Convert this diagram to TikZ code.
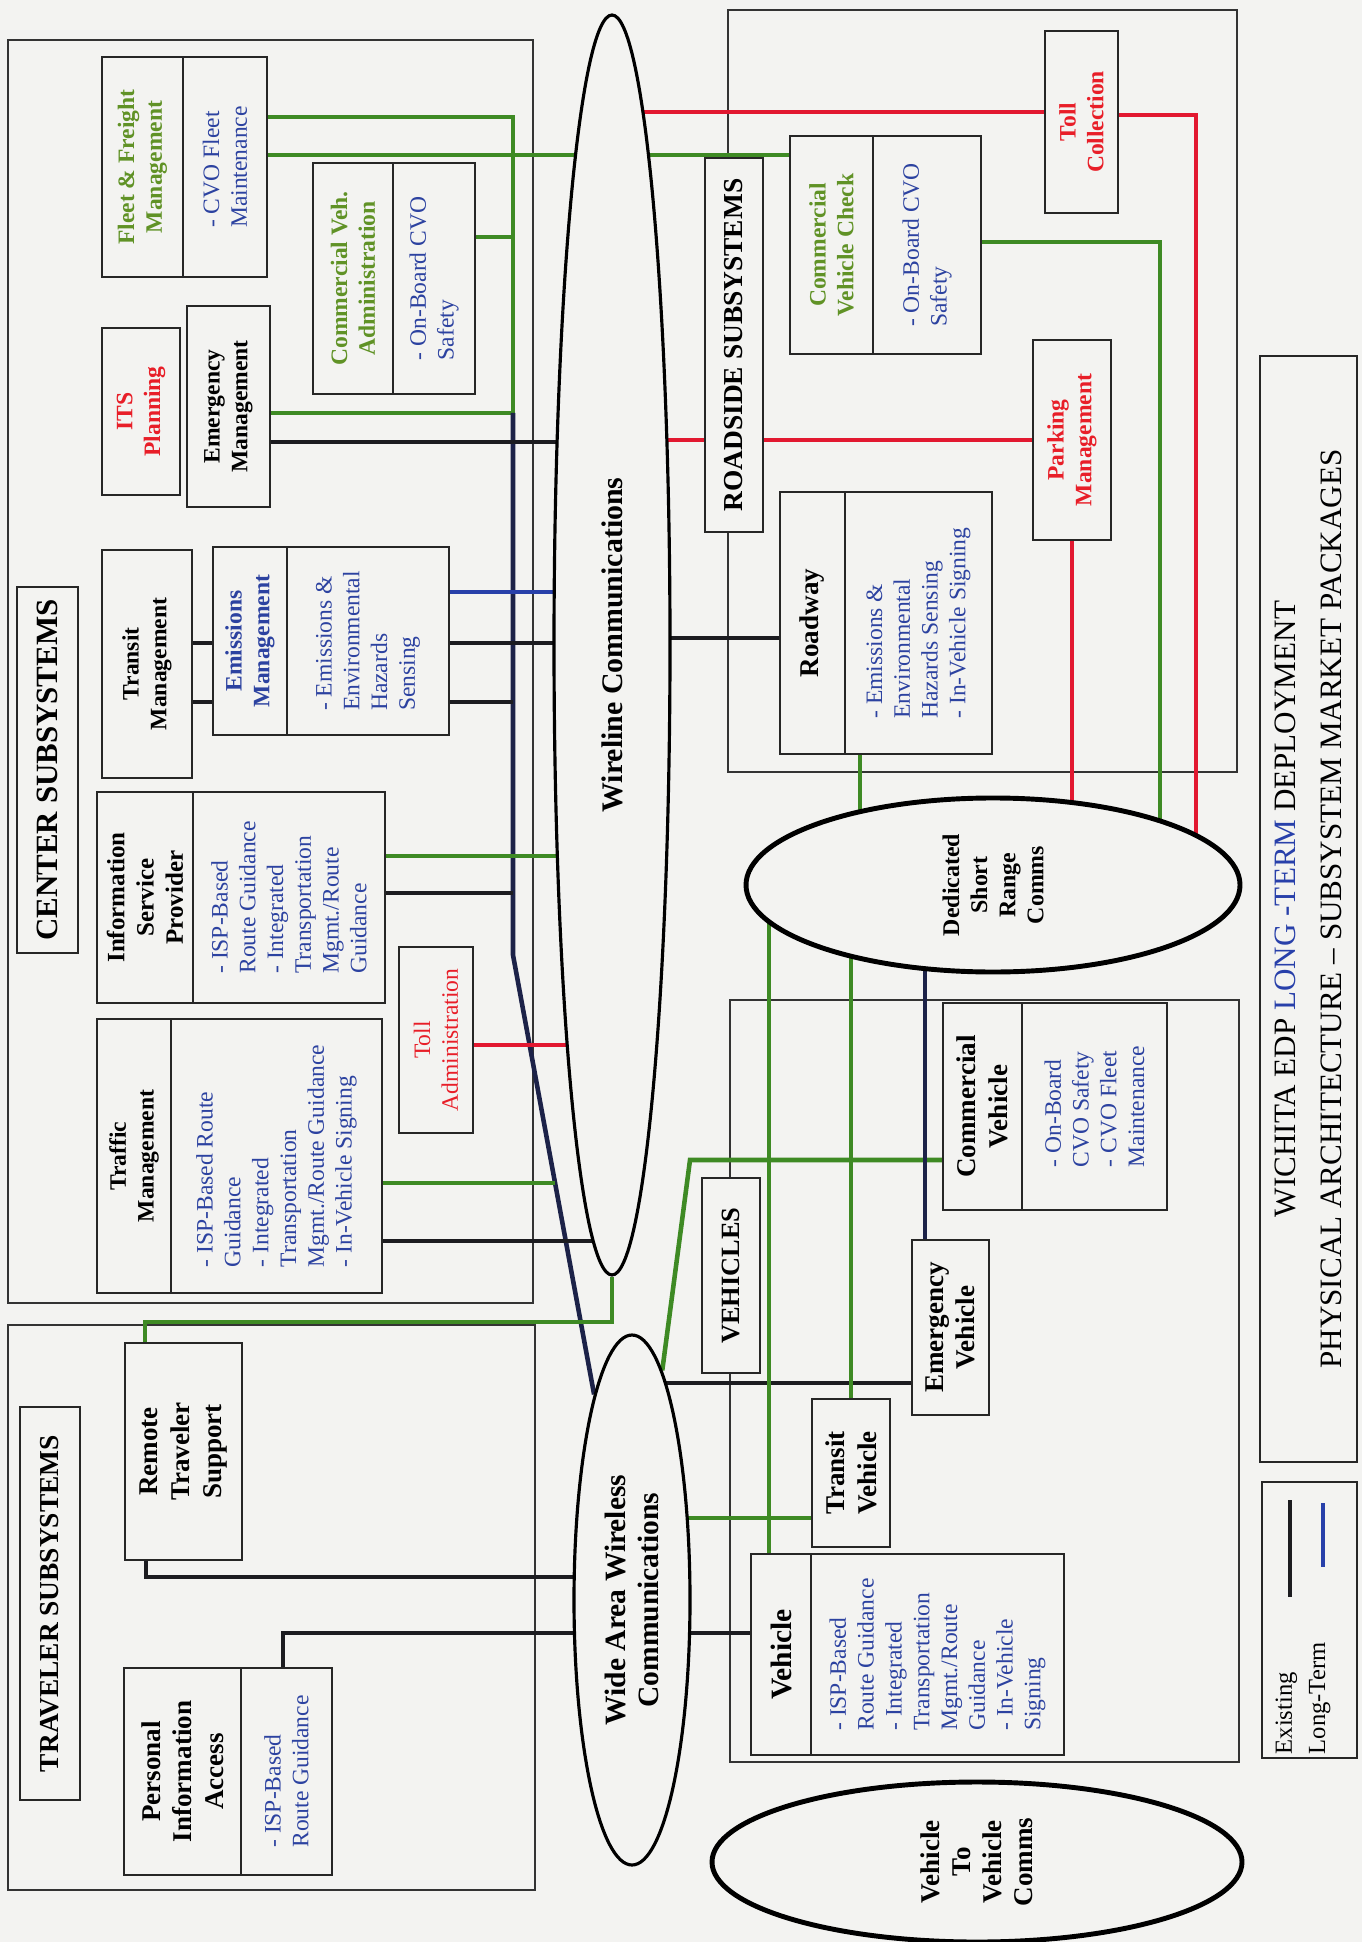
\documentclass[tikz,border=0pt]{standalone}
\usepackage{fontspec}
\setmainfont{Liberation Serif}
\usetikzlibrary{positioning, shapes.geometric, backgrounds}
\definecolor{paperGrey}{RGB}{243,243,241}
\definecolor{wireBlack}{RGB}{28,28,32}
\definecolor{busNavy}{RGB}{28,34,72}
\definecolor{termBlue}{RGB}{40,64,170}
\definecolor{linkGreen}{RGB}{62,138,36}
\definecolor{linkRed}{RGB}{226,24,48}
\definecolor{txtGreen}{RGB}{96,146,38}
\definecolor{txtBlue}{RGB}{44,66,160}
\definecolor{txtRed}{RGB}{232,30,40}
\tikzset{
	boxsize/.style 2 args={minimum height=#1mm, minimum width=#2mm},
	subbox/.style={rectangle, draw=black!85, line width=0.6pt, fill=paperGrey,
		rotate=90, inner sep=1pt, align=center,
		font=\fontsize{6.7}{7.9}\selectfont\bfseries},
	bigbox/.style={subbox, font=\fontsize{7.7}{9}\selectfont\bfseries},
	listbox/.style={subbox, align=left, text=txtBlue,
		font=\fontsize{6.7}{7.9}\selectfont},
	headbox/.style={subbox, font=\fontsize{7.8}{9}\selectfont\bfseries},
	commsblob/.style={ellipse, draw=black, line width=0.9pt, fill=paperGrey,
		rotate=90, inner sep=0pt, align=center,
		font=\fontsize{8.5}{9.7}\selectfont\bfseries},
	framebox/.style={draw=black!80, line width=0.45pt},
	link/.style={line width=1.3pt},
	blkline/.style={link, draw=wireBlack},
	navyline/.style={link, draw=busNavy},
	bluline/.style={link, draw=termBlue},
	grnline/.style={link, draw=linkGreen},
	redline/.style={link, draw=linkRed}
}

\begin{document}
\begin{tikzpicture}[x=0.1mm, y=-0.1mm]
	\useasboundingbox (0,0) rectangle (1362,1942);
	% center subsystems
	\node[headbox, boxsize={6.1}{36.6}, font=\fontsize{8.8}{10}\selectfont\bfseries] (centerhd) at (47.5,770) {CENTER SUBSYSTEMS};
	\node[subbox, boxsize={8.1}{22}, text=txtGreen] (fleetT) at (142.5,167) {Fleet \& Freight\\Management};
	\node[listbox, boxsize={8.4}{22}] (fleetL) at (225,167) {- CVO Fleet\\Maintenance};
	\node[subbox, boxsize={7.8}{16.7}, text=txtRed] (itsplan) at (141,411.5) {ITS\\Planning};
	\node[subbox, boxsize={8.3}{20.1}] (emerg) at (228.5,406.5) {Emergency\\Management};
	\node[subbox, boxsize={8}{23.1}, text=txtGreen] (cvaT) at (353,278.5) {Commercial Veh.\\Administration};
	\node[listbox, boxsize={8.2}{23.1}] (cvaL) at (434,278.5) {- On-Board CVO\\Safety};
	\node[subbox, boxsize={9}{22.8}] (transitM) at (147,664) {Transit\\Management};
	\node[subbox, boxsize={7.4}{18.8}, text=txtBlue] (emisT) at (250,641) {Emissions\\Management};
	\node[listbox, boxsize={16.2}{18.8}] (emisL) at (368,641) {- Emissions \&\\Environmental\\Hazards\\Sensing};
	\node[subbox, boxsize={9.6}{21.1}, font=\fontsize{7.1}{8.3}\selectfont\bfseries] (ispT) at (145,897.5) {Information\\Service\\Provider};
	\node[listbox, boxsize={19.2}{21.1}] (ispL) at (289,897.5) {- ISP-Based\\Route Guidance\\- Integrated\\Transportation\\Mgmt./Route\\Guidance};
	\node[subbox, boxsize={7.4}{27.4}] (trafT) at (134,1156) {Traffic\\Management};
	\node[listbox, boxsize={21.1}{27.4}] (trafL) at (276.5,1156) {- ISP-Based Route\\Guidance\\- Integrated\\Transportation\\Mgmt./Route Guidance\\- In-Vehicle Signing};
	\node[subbox, boxsize={7.4}{18.6}, text=txtRed, font=\fontsize{6.7}{7.9}\selectfont] (tolladm) at (436,1040) {Toll\\Administration};
	% traveler subsystems
	\node[headbox, boxsize={6}{39.3}] (travhd) at (50,1603.5) {TRAVELER SUBSYSTEMS};
	\node[bigbox, boxsize={11.7}{21.7}] (remote) at (183.5,1451.5) {Remote\\Traveler\\Support};
	\node[bigbox, boxsize={11.7}{20.7}] (piaT) at (182.5,1771.5) {Personal\\Information\\Access};
	\node[listbox, boxsize={9.1}{20.7}] (piaL) at (286.5,1771.5) {- ISP-Based\\Route Guidance};
	% roadside subsystems
	\node[headbox, boxsize={5.8}{37.4}] (roadhd) at (734,345) {ROADSIDE SUBSYSTEMS};
	\node[subbox, boxsize={8.3}{21.8}, text=txtGreen] (cvcT) at (831.5,245) {Commercial\\Vehicle Check};
	\node[listbox, boxsize={10.8}{21.8}] (cvcL) at (927,245) {- On-Board CVO\\Safety};
	\node[subbox, boxsize={7.3}{18.2}, text=txtRed] (tollcol) at (1081.5,122) {Toll\\Collection};
	\node[subbox, boxsize={7.8}{20}, text=txtRed] (parking) at (1072,440) {Parking\\Management};
	\node[bigbox, boxsize={6.5}{26.2}] (roadT) at (812.5,623) {Roadway};
	\node[listbox, boxsize={14.7}{26.2}] (roadL) at (918.5,623) {- Emissions \&\\Environmental\\Hazards Sensing\\- In-Vehicle Signing};
	% vehicles
	\node[headbox, boxsize={5.8}{19.5}, font=\fontsize{7.5}{9}\selectfont\bfseries] (vehhd) at (731,1275.5) {VEHICLES};
	\node[bigbox, boxsize={7.9}{20.7}] (comvT) at (982.5,1106.5) {Commercial\\Vehicle};
	\node[listbox, boxsize={14.5}{20.7}] (comvL) at (1094.5,1106.5) {- On-Board\\CVO Safety\\- CVO Fleet\\Maintenance};
	\node[bigbox, boxsize={7.7}{17.5}] (emveh) at (950.5,1327.5) {Emergency\\Vehicle};
	\node[bigbox, boxsize={7.8}{14.8}] (transv) at (851,1473) {Transit\\Vehicle};
	\node[bigbox, boxsize={6}{20.1}, font=\fontsize{8.4}{9.6}\selectfont\bfseries] (vehT) at (781,1654.5) {Vehicle};
	\node[listbox, boxsize={25.3}{20.1}] (vehL) at (937.5,1654.5) {- ISP-Based\\Route Guidance\\- Integrated\\Transportation\\Mgmt./Route\\Guidance\\- In-Vehicle\\Signing};
	% communications
	\node[commsblob, boxsize={11.6}{126}] (wire) at (612,645) {Wireline Communications};
	\node[commsblob, boxsize={11.6}{53}, font=\fontsize{8.4}{9.6}\selectfont\bfseries] (wide) at (632,1600) {Wide Area Wireless\\Communications};
	\node[commsblob, boxsize={49.4}{17.4}, line width=1.4pt, font=\fontsize{6.8}{8}\selectfont\bfseries] (dsrc) at (993,885) {Dedicated\\Short\\Range\\Comms};
	\node[commsblob, boxsize={53}{16}, line width=1.4pt, font=\fontsize{7.7}{8.8}\selectfont\bfseries] (v2v) at (977,1862) {Vehicle\\To\\Vehicle\\Comms};
	% title and legend
	\node[subbox, boxsize={9.7}{110.6}, font=\fontsize{8.85}{13}\selectfont] (titlebox) at (1308.5,909) {WICHITA EDP \textcolor{termBlue}{LONG -TERM} DEPLOYMENT\\PHYSICAL ARCHITECTURE -- SUBSYSTEM MARKET PACKAGES};
	\node[subbox, boxsize={9.5}{27.6}] (legend) at (1309.5,1620) {};
	\node[rotate=90, anchor=west, align=left, inner sep=0pt, font=\fontsize{7}{9.5}\selectfont] (legtxt) at (1303,1755) {Existing\\Long-Term};
	\coordinate (gbusT) at (513,117);
	\coordinate (gbusB) at (513,413);
	\coordinate (nbusB) at (513,955);
	\coordinate (tgEnd) at (555,1183);
	\coordinate (rtsG) at (145,1322);
	\coordinate (rtsB) at (146,1577);
	\coordinate (piaB) at (283,1633);
	\coordinate (wcvBend) at (690,1160);
	\coordinate (tcBend) at (1196,115);
	\coordinate (cvcBend) at (1160,242);
	\coordinate (rwDrop) at (860,800);
	\coordinate (vehDrop) at (769,1000);
	\coordinate (evDrop) at (925,1000);
	\coordinate (exTop) at (1290,1500);
	\coordinate (exBot) at (1290,1597);
	\coordinate (ltTop) at (1323,1503);
	\coordinate (ltBot) at (1323,1567);
	% legend samples
	\draw[blkline] (exTop) -- (exBot);
	\draw[bluline] (ltTop) -- (ltBot);
	\begin{scope}[on background layer]
		\fill[paperGrey] (0,0) rectangle (1362,1942);
		\draw[framebox] (8,40) rectangle (533,1303);
		\draw[framebox] (8,1325) rectangle (535,1890);
		\draw[framebox] (728,10) rectangle (1237,772);
		\draw[framebox] (730,1000) rectangle (1239,1762);
		% center side
		\draw[grnline] (fleetL.south |- gbusT) -- (gbusT) -- (gbusB) -- (emerg.south |- gbusB);
		\draw[grnline] (cvaL.south |- 0,237) -- (gbusT |- 0,237);
		\draw[grnline] (fleetL.south |- 0,155) -- (cvcT.north |- 0,155);
		\draw[navyline] (gbusB) -- (nbusB) -- (wide);
		\foreach \a/\y/\c in {emerg/442/wireBlack, emisL/592/termBlue, transitM/643/wireBlack,
			ispL/856/linkGreen, tolladm/1045/linkRed, trafL/1241/wireBlack}
			\draw[link, draw=\c] (\a.south |- 0,\y) -- (wire.center |- 0,\y);
		\foreach \a/\y in {transitM/702, ispL/893}
			\draw[blkline] (\a.south |- 0,\y) -- (gbusB |- 0,\y);
		\draw[grnline] (trafL.south |- tgEnd) -- (tgEnd);
		\draw[grnline] (rtsG |- remote.east) -- (rtsG) -| (wire.west);
		\draw[blkline] (rtsB |- remote.west) -- (rtsB) -- (wide.center |- rtsB);
		\draw[blkline] (piaB |- piaL.east) -- (piaB) -- (wide.center |- piaB);
		% vehicles side
		\draw[blkline] (wide.center |- piaB) -- (vehT.north |- piaB);
		\draw[blkline] (wide.center |- 0,1383) -- (emveh.north |- 0,1383);
		\draw[grnline] (wide.center |- 0,1518) -- (transv.north |- 0,1518);
		\draw[grnline] (comvT.north |- wcvBend) -- (wcvBend) -- (wide);
		% roadside
		\draw[redline] (wire.center |- 0,112) -- (tollcol.north |- 0,112);
		\draw[redline] (wire.center |- parking.north) -- (parking.north);
		\draw[blkline] (wire.center |- 0,638) -- (roadT.north |- 0,638);
		\draw[redline] (tollcol.south |- tcBend) -- (tcBend) -- (tcBend |- dsrc.center);
		\draw[grnline] (cvcL.south |- cvcBend) -- (cvcBend) -- (cvcBend |- dsrc.center);
		\draw[redline] (parking.west) -- (parking.west |- dsrc.center);
		\draw[grnline] (rwDrop |- roadL.west) -- (rwDrop |- dsrc.center);
		\draw[grnline] (vehDrop |- dsrc.center) -- (vehDrop |- vehT.east);
		\draw[grnline] (transv.east |- dsrc.center) -- (transv.east);
		\draw[navyline] (evDrop |- dsrc.center) -- (evDrop |- emveh.east);
	\end{scope}
\end{tikzpicture}
\end{document}
